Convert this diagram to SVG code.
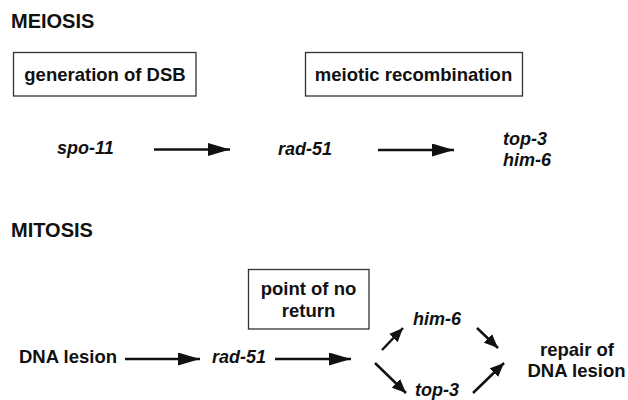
<svg xmlns="http://www.w3.org/2000/svg" width="628" height="400" viewBox="0 0 628 400">
<defs>
<style>
text{font-family:"Liberation Sans",Arial,sans-serif;font-weight:bold;fill:#111;font-size:18.5px}
.h{font-size:20px}
.g{font-style:italic;font-size:18px}
.m{text-anchor:middle}
.box{fill:#fff;stroke:#333;stroke-width:1.3}
.c line{stroke:#111;stroke-width:2.5}
.L{marker-end:url(#aL)}
.S{marker-end:url(#aS)}
</style>
<marker id="aL" markerUnits="userSpaceOnUse" markerWidth="22" markerHeight="13" refX="22" refY="6.5" orient="auto"><path d="M0,0 L22,6.5 L0,13 z" fill="#111"/></marker>
<marker id="aS" markerUnits="userSpaceOnUse" markerWidth="14" markerHeight="12" refX="14" refY="6" orient="auto"><path d="M0,0 L14,6 L0,12 z" fill="#111"/></marker>
</defs>
<rect width="628" height="400" fill="#fff"/>
<g id="meiosis-title"><text class="h" x="11" y="28">MEIOSIS</text></g>
<g id="box-dsb"><rect class="box" x="13.5" y="52.5" width="182.5" height="43.5"/><text class="m" x="105" y="80.5">generation of DSB</text></g>
<g id="box-recomb"><rect class="box" x="305.5" y="52.5" width="217" height="43.5"/><text class="m" x="413.5" y="80.5">meiotic recombination</text></g>
<g id="spo11"><text class="g" x="57" y="154">spo-11</text></g>
<g id="rad51-mei"><text class="g" x="278" y="155">rad-51</text></g>
<g id="top3-him6-mei"><text class="g" x="503" y="145">top-3</text><text class="g" x="503" y="166">him-6</text></g>
<g id="mitosis-title"><text class="h" x="11" y="237">MITOSIS</text></g>
<g id="box-pnr"><rect class="box" x="248.5" y="269.5" width="120.5" height="59.5"/><text class="m" x="308.5" y="295">point of no</text><text class="m" x="308.5" y="317">return</text></g>
<g id="dna-lesion"><text x="19" y="363">DNA lesion</text></g>
<g id="rad51-mit"><text class="g" x="212" y="363">rad-51</text></g>
<g id="him6"><text class="g" x="413" y="325">him-6</text></g>
<g id="top3"><text class="g" x="415" y="396">top-3</text></g>
<g id="repair"><text class="m" x="577" y="356">repair of</text><text class="m" x="576.5" y="377">DNA lesion</text></g>
<g id="connectors" class="c">
<line class="L" x1="154" y1="149.5" x2="230" y2="149.5"/>
<line class="L" x1="378" y1="150" x2="454" y2="150"/>
<line class="L" x1="125" y1="359" x2="200" y2="359"/>
<line class="L" x1="275" y1="359" x2="351" y2="359"/>
<line class="S" x1="382" y1="350" x2="403" y2="328"/>
<line class="S" x1="375" y1="363" x2="406" y2="393"/>
<line class="S" x1="477" y1="328" x2="498" y2="348"/>
<line class="S" x1="473" y1="393" x2="504" y2="363"/>
</g>
</svg>
